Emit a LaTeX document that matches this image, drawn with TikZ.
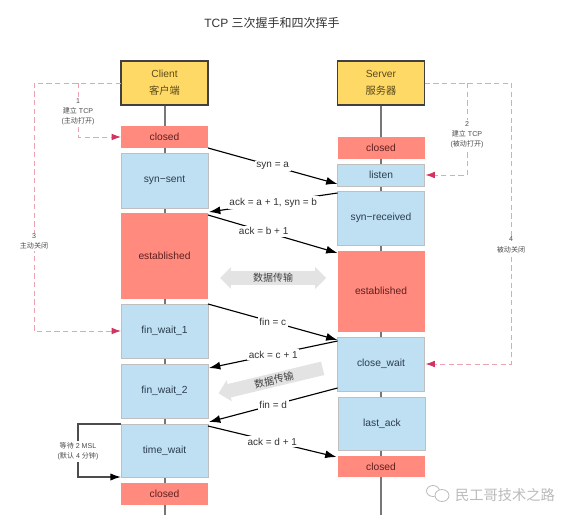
\documentclass[tikz,border=0pt]{standalone}
\usepackage{fontspec}
\setmainfont{Liberation Sans}
\newfontfamily\cjk{Noto Sans CJK SC}
\usetikzlibrary{arrows.meta,calc,backgrounds,shapes.arrows}
\definecolor{headfill}{HTML}{FFD966}
\definecolor{headtext}{HTML}{5A4A1A}
\definecolor{redfill}{HTML}{FF8A7D}
\definecolor{redtext}{HTML}{5E1F1F}
\definecolor{bluefill}{HTML}{BFDFF3}
\definecolor{bluetext}{HTML}{2B3D4D}
\definecolor{pinkline}{HTML}{EBA3B4}
\definecolor{tipred}{HTML}{D3345F}
\definecolor{lifeline}{HTML}{777777}
\tikzset{
  box/.style={rectangle,inner sep=0pt,outer sep=0pt,minimum width=87*0.75pt,align=center,font=\fontsize{7.7}{12.5}\selectfont},
  headbox/.style={box,fill=headfill,draw=black!75,line width=.9pt,text=headtext},
  redbox/.style={box,fill=redfill,text=redtext},
  bluebox/.style={box,fill=bluefill,draw=black!25,line width=.4pt,text=bluetext},
  msg/.style={draw=black,line width=.85pt,-{Latex[length=8.5pt,width=6pt]}},
  msglabel/.style={fill=white,inner sep=1.2pt,font=\fontsize{7.5}{9}\selectfont,text=black!80},
  pinkpath/.style={draw=pinkline,line width=.7pt,dashed,dash pattern=on 4pt off 2.5pt,-{Latex[length=7pt,width=5pt,color=tipred]}},
  sidelabel/.style={fill=white,inner sep=1pt,align=center,font=\fontsize{5.3}{7.6}\selectfont,text=black!70},
  dataarrow/.style={fill=black!11,text=black!75,inner sep=1.5pt,font=\cjk\fontsize{7.5}{9}\selectfont,single arrow head extend=3pt},
}
\newcommand{\statebox}[6]{\node[#2,minimum height=(#5-#4)*0.75pt] (#1) at (#3,{(#4+#5)/2}) {#6};}
\begin{document}
\begin{tikzpicture}[x=0.75pt,y=-0.75pt]
\useasboundingbox (0,0) rectangle (581,531);
\node[font=\fontsize{9}{11}\selectfont,text=black!80] (title) at (272,23) {TCP {\cjk 三次握手和四次挥手}};
% client
\statebox{chead}{headbox}{164.5}{61}{105}{Client\\{\cjk 客户端}}
\statebox{cclosed}{redbox}{164.5}{126}{148}{closed}
\statebox{csent}{bluebox}{164.5}{153}{208}{syn−sent}
\statebox{cest}{redbox}{164.5}{213}{299}{established}
\statebox{cfa}{bluebox}{164.5}{304}{358}{fin\_wait\_1}
\statebox{cfb}{bluebox}{164.5}{364}{418}{fin\_wait\_2}
\statebox{ctw}{bluebox}{164.5}{424}{477}{time\_wait}
\statebox{cend}{redbox}{164.5}{483}{505}{closed}
\coordinate (cfoot) at (164.5,515);
% server
\statebox{shead}{headbox}{381}{61}{105}{Server\\{\cjk 服务器}}
\statebox{sclosed}{redbox}{381}{137}{159}{closed}
\statebox{slisten}{bluebox}{381}{164}{186}{listen}
\statebox{srecv}{bluebox}{381}{191}{245}{syn−received}
\statebox{sest}{redbox}{381}{251}{331.5}{established}
\statebox{scw}{bluebox}{381}{337}{391}{close\_wait}
\statebox{sla}{bluebox}{382}{397}{450}{last\_ack}
\statebox{send}{redbox}{381}{456}{477}{closed}
\coordinate (sfoot) at (381,515);
\begin{scope}[on background layer]
\draw[lifeline,line width=1.5pt] (chead.south) -- (cfoot);
\draw[lifeline,line width=1.5pt] (shead.south) -- (sfoot);
\end{scope}
% messages
\draw[msg] (cclosed.south east) -- node[msglabel] (m1) {syn = a} ($(slisten.south west)+(0,-2)$);
\draw[msg] ($(srecv.north west)+(0,2)$) -- node[msglabel] (m2) {ack = a + 1, syn = b} ($(cest.north east)+(1,-1)$);
\draw[msg] ($(cest.north east)+(0,2)$) -- node[msglabel,pos=.43] (m3) {ack = b + 1} ($(sest.north west)+(0,2)$);
\draw[msg] (cfa.north east) -- node[msglabel] (m4) {fin = c} ($(scw.north west)+(0,3)$);
\draw[msg] ($(scw.north west)+(0,4)$) -- node[msglabel] (m5) {ack = c + 1} ($(cfb.north east)+(1,4)$);
\draw[msg] ($(scw.south west)+(0,-3)$) -- node[msglabel] (m6) {fin = d} ($(ctw.north east)+(1,-2)$);
\draw[msg] ($(ctw.north east)+(0,2)$) -- node[msglabel] (m7) {ack = d + 1} ($(send.north west)+(-1,1)$);
% data transfer arrows
\node[dataarrow,double arrow,double arrow head extend=3pt,minimum height=106*0.75pt] (d1) at (273,278) {数据传输};
\node[dataarrow,single arrow,shape border rotate=180,minimum height=107*0.75pt,rotate=13.5] (d2) at (274,380) {数据传输};
% dashed state paths
\coordinate (c1a) at (78,83); \coordinate (c3a) at (34,83);
\coordinate (s2a) at (467,83); \coordinate (s4a) at (511,83);
\draw[pinkpath] (chead.west |- c1a) -- (c3a) |- node[sidelabel,pos=.32] (l3) {3\\{\cjk 主动关闭}} (cfa.west);
\draw[pinkpath] (c1a) |- node[sidelabel,pos=.27] (l1) {1\\{\cjk 建立} TCP\\({\cjk 主动打开})} (cclosed.west);
\draw[pinkpath] (shead.east |- s2a) -- (s4a) |- node[sidelabel,pos=.288] (l4) {4\\{\cjk 被动关闭}} ($(scw.east)+(1,0)$);
\draw[pinkpath] (s2a) |- node[sidelabel,pos=.28] (l2) {2\\{\cjk 建立} TCP\\({\cjk 被动打开})} ($(slisten.east)+(1,0)$);
% wait loop
\coordinate (waitc) at (78,424);
\draw[black!70,line width=1pt,-{Latex[length=8pt,width=5.5pt,color=black]}] (ctw.north west) -- (waitc) |- node[sidelabel,pos=.26] (l5) {{\cjk 等待} 2 MSL\\({\cjk 默认} 4 {\cjk 分钟})} (ctw.south west);
% watermark
\node[font=\cjk\fontsize{10.7}{12}\selectfont,text=black!27] (wm) at (505,495) {民工哥技术之路};
\draw[black!27,line width=.6pt,fill=white] (433,491) ellipse [x radius=6.5,y radius=5.5];
\draw[black!27,line width=.6pt,fill=white] (442,495.5) ellipse [x radius=7,y radius=6];
\end{tikzpicture}
\end{document}
